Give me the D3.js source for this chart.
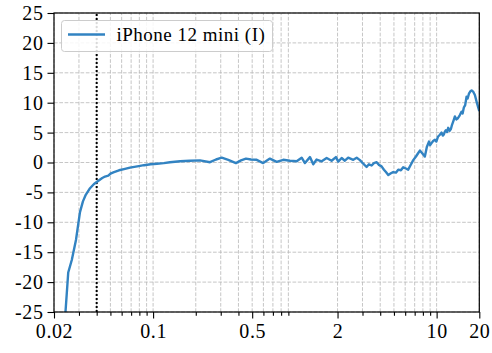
<!DOCTYPE html>
<html>
<head>
<meta charset="utf-8">
<script src="https://cdn.jsdelivr.net/npm/d3@7"></script>
<style>
  html, body { margin: 0; padding: 0; background: #fff; }
  svg { display: block; }
  text { font-family: "Liberation Serif", "Times New Roman", serif; fill: #000; }
</style>
</head>
<body>
<svg id="chart" width="492" height="353"></svg>
<script>
// Frequency response, kHz vs dB
const freqKHz = [
  0.0241, 0.0252, 0.0267, 0.0286, 0.0305, 0.0320, 0.0335, 0.0359, 0.0383, 0.0409,
  0.0438, 0.0458, 0.0483, 0.0505, 0.0530, 0.0575, 0.0623, 0.0687, 0.0773, 0.0863,
  0.0962, 0.1065, 0.119, 0.1315, 0.155, 0.182, 0.214, 0.252, 0.278, 0.305,
  0.339, 0.384, 0.417, 0.452, 0.490, 0.538, 0.598, 0.667, 0.744, 0.828,
  0.923, 1.03, 1.117, 1.178, 1.278, 1.348, 1.424, 1.546, 1.676, 1.816,
  1.948, 2.024, 2.138, 2.254, 2.378, 2.582, 2.73, 2.878, 3.036, 3.206,
  3.33, 3.48, 3.61, 3.776, 3.92, 4.09, 4.25, 4.39, 4.56, 4.76,
  4.94, 5.16, 5.36, 5.60, 5.81, 6.07, 6.30, 6.53, 6.84, 7.15,
  7.38, 7.62, 7.94, 8.26, 8.53, 8.83, 9.00, 9.18, 9.45, 9.73,
  9.95, 10.21, 10.50, 10.84, 11.05, 11.25, 11.45, 11.62, 11.85, 12.07,
  12.35, 12.61, 12.80, 13.03, 13.25, 13.46, 13.80, 14.13, 14.55, 15.0,
  15.25, 15.56, 15.90, 16.26, 16.55, 16.9, 17.3, 17.66, 18.16, 18.62,
  19.22, 20.0
];
const levelDb = [
  -25, -18.4, -16.3, -12.9, -8.3, -6.5, -5.4, -4.3, -3.6, -3.1,
  -2.6, -2.35, -2.2, -1.8, -1.6, -1.3, -1.1, -0.85, -0.65, -0.45,
  -0.3, -0.2, -0.1, 0.05, 0.2, 0.3, 0.35, 0.05, 0.5, 0.8,
  0.45, -0.1, 0.35, 0.65, 0.5, 0.45, -0.1, 0.65, 0.1, 0.45,
  0.3, 0.2, 0.8, -0.1, 0.9, -0.3, 0.5, 0.2, 0.75, 0.3,
  0.9, 0.15, 0.75, 0.3, 0.8, 0.45, 0.8, 0.4, -0.2, -0.75,
  -0.3, -0.5, -0.1, 0.05, -0.4, -0.65, -1.2, -1.6, -2.1, -1.8,
  -1.6, -1.7, -1.2, -1.3, -0.8, -1.0, -1.2, -0.5, 0.4, 1.0,
  1.5, 2.0, 1.5, 1.0, 2.6, 3.5, 2.9, 3.2, 3.6, 3.8,
  3.5, 4.3, 4.6, 5.0, 4.5, 4.7, 5.2, 5.4, 5.1, 5.8,
  5.3, 5.6, 6.2, 6.7, 7.2, 7.7, 7.2, 7.4, 7.9, 8.5,
  8.2, 9.2, 9.6, 11.0, 10.7, 11.5, 11.9, 12.05, 11.8, 11.3,
  10.0, 8.6
];
const seriesName = "iPhone 12 mini (I)";

const xMajorTicks = [0.02, 0.1, 0.5, 2, 10, 20];
const xMinorTicks = [0.03, 0.04, 0.05, 0.06, 0.07, 0.08, 0.09,
                     0.2, 0.3, 0.4, 0.6, 0.7, 0.8, 0.9,
                     3, 4, 5, 6, 7, 8, 9];
const yTicks = [-25, -20, -15, -10, -5, 0, 5, 10, 15, 20, 25];
const cutoffKHz = 0.04;

const W = 492, H = 353;
const margin = { left: 54, right: 12.7, top: 13, bottom: 41 };
const svg = d3.select("#chart");

const x = d3.scaleLog().domain([0.02, 20]).range([margin.left, W - margin.right]);
const y = d3.scaleLinear().domain([-25, 25]).range([H - margin.bottom, margin.top]);

const lineColor = "#3283c2";
const gridColor = "#b8b8b8";

// grid
const grid = svg.append("g");
grid.selectAll("line.vg").data(xMajorTicks.concat(xMinorTicks)).join("line")
  .attr("x1", d => x(d)).attr("x2", d => x(d))
  .attr("y1", y(-25)).attr("y2", y(25))
  .attr("stroke", gridColor).attr("stroke-width", 0.8).attr("stroke-dasharray", "3.7,1.6");
grid.selectAll("line.hg").data(yTicks).join("line")
  .attr("x1", x(0.02)).attr("x2", x(20))
  .attr("y1", d => y(d)).attr("y2", d => y(d))
  .attr("stroke", gridColor).attr("stroke-width", 0.8).attr("stroke-dasharray", "3.7,1.6");

// dotted cutoff marker
svg.append("line")
  .attr("x1", x(cutoffKHz)).attr("x2", x(cutoffKHz))
  .attr("y1", y(-25)).attr("y2", y(25))
  .attr("stroke", "#000").attr("stroke-width", 2).attr("stroke-dasharray", "2,2");

// clip for the data line
svg.append("clipPath").attr("id", "plotArea").append("rect")
  .attr("x", x(0.02)).attr("y", y(25))
  .attr("width", x(20) - x(0.02)).attr("height", y(-25) - y(25));

const points = freqKHz.map((f, i) => [f, levelDb[i]]);
svg.append("path")
  .datum(points)
  .attr("clip-path", "url(#plotArea)")
  .attr("fill", "none")
  .attr("stroke", lineColor)
  .attr("stroke-width", 2.4)
  .attr("stroke-linejoin", "round")
  .attr("d", d3.line().x(d => x(d[0])).y(d => y(d[1])));

// axes
const fmtX = d => String(d);
const xAxis = svg.append("g").attr("transform", `translate(0,${y(-25)})`)
  .call(d3.axisBottom(x).tickValues(xMajorTicks).tickFormat(fmtX).tickSize(6.5).tickPadding(5));
const xMinor = svg.append("g").attr("transform", `translate(0,${y(-25)})`)
  .call(d3.axisBottom(x).tickValues(xMinorTicks).tickFormat("").tickSize(3.8));
const yAxis = svg.append("g").attr("transform", `translate(${x(0.02)},0)`)
  .call(d3.axisLeft(y).tickValues(yTicks).tickFormat(d => String(d)).tickSize(6.5).tickPadding(4));

[xAxis, xMinor, yAxis].forEach(g => {
  g.select(".domain").remove();
  g.selectAll(".tick line").attr("stroke", "#000").attr("stroke-width", 1.1);
  g.selectAll(".tick text").attr("font-size", 20)
    .attr("letter-spacing", 0.6)
    .attr("font-family", '"Liberation Serif", serif').attr("fill", "#000");
});

// frame
svg.append("rect")
  .attr("x", x(0.02)).attr("y", y(25))
  .attr("width", x(20) - x(0.02)).attr("height", y(-25) - y(25))
  .attr("fill", "none").attr("stroke", "#000").attr("stroke-width", 1.2);

// legend
const legend = svg.append("g");
legend.append("rect")
  .attr("x", 61.5).attr("y", 20.5).attr("width", 211).attr("height", 31)
  .attr("rx", 3).attr("fill", "#fff").attr("fill-opacity", 0.85)
  .attr("stroke", "#cccccc").attr("stroke-width", 1);
legend.append("line")
  .attr("x1", 68).attr("x2", 105).attr("y1", 34.5).attr("y2", 34.5)
  .attr("stroke", lineColor).attr("stroke-width", 2.4);
legend.append("text")
  .attr("x", 116.5).attr("y", 40.5)
  .attr("font-size", 19)
  .attr("letter-spacing", 0.5)
  .text(seriesName);
</script>
</body>
</html>
